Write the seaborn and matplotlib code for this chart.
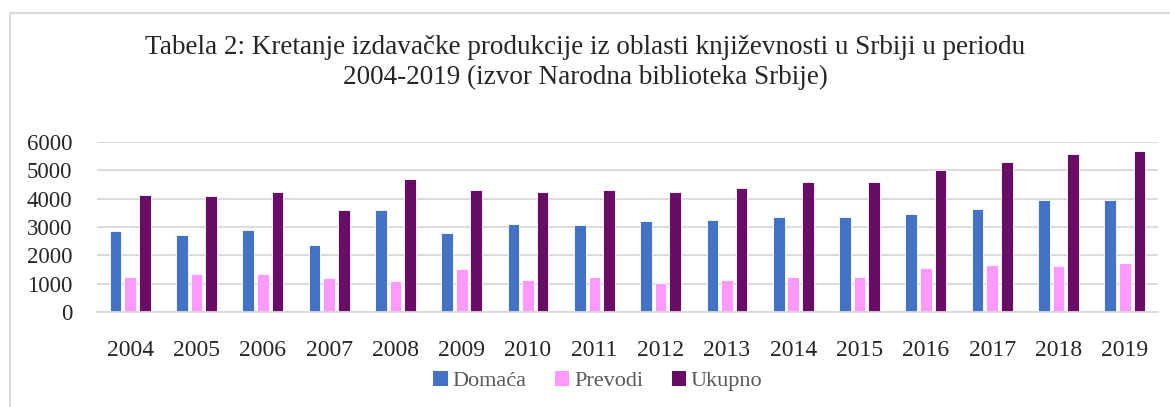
import matplotlib
matplotlib.use('Agg')
import matplotlib.pyplot as plt
import seaborn as sns
import pandas as pd
from matplotlib.patches import Rectangle, Patch

years = ['2004', '2005', '2006', '2007', '2008', '2009', '2010', '2011',
         '2012', '2013', '2014', '2015', '2016', '2017', '2018', '2019']
domaca = [2865, 2724, 2877, 2370, 3597, 2771, 3090, 3078,
          3196, 3231, 3337, 3349, 3455, 3632, 3939, 3939]
prevodi = [1238, 1356, 1333, 1215, 1097, 1509, 1132, 1226,
           1026, 1144, 1226, 1250, 1557, 1663, 1639, 1745]
ukupno = [4115, 4092, 4233, 3597, 4693, 4292, 4233, 4316,
          4233, 4387, 4575, 4599, 5012, 5295, 5590, 5696]
series_names = ['Domaća', 'Prevodi', 'Ukupno']
colors = ['#4472C4', '#FF99FF', '#690C65']

sns.set_style('white')
plt.rcParams['font.family'] = ['Liberation Serif', 'DejaVu Serif']

# long format for seaborn
data = pd.DataFrame({
    'Godina': years * 3,
    'Broj': domaca + prevodi + ukupno,
    'Serija': [series_names[0]] * 16 + [series_names[1]] * 16 + [series_names[2]] * 16,
})

fig = plt.figure(figsize=(11.7, 4.07), dpi=100)
ax = fig.add_axes([97 / 1170, 1 - 312 / 407, (1158 - 97) / 1170, (312 - 142) / 407])

sns.barplot(data=data, x='Godina', y='Broj', hue='Serija', order=years,
            hue_order=series_names, palette=colors, saturation=1,
            width=0.66, gap=0.2, ax=ax, legend=False,
            edgecolor='white', linewidth=0.6)

ax.set_ylim(0, 6000)
ax.set_yticks(range(0, 6001, 1000))
ax.set_xlabel('')
ax.set_ylabel('')
ax.grid(axis='y', color='#D9D9D9', linewidth=1.3)
ax.set_axisbelow(True)
for s in ['top', 'right', 'left']:
    ax.spines[s].set_visible(False)
ax.spines['bottom'].set_color('#D9D9D9')
ax.spines['bottom'].set_linewidth(1.3)
ax.tick_params(axis='y', length=0, pad=18, labelsize=16.5)
ax.tick_params(axis='x', length=0, pad=20, labelsize=17)

fig.text(0.5, 1 - 47 / 407,
         'Tabela 2: Kretanje izdavačke produkcije iz oblasti književnosti u Srbiji u periodu',
         ha='center', va='center', fontsize=19.5)
fig.text(0.5, 1 - 77 / 407, '2004-2019 (izvor Narodna biblioteka Srbije)',
         ha='center', va='center', fontsize=19.5)

handles = [Patch(facecolor=c, edgecolor='none') for c in colors]
fig.legend(handles, series_names, loc='center', bbox_to_anchor=(0.511, 1 - 381 / 407),
           ncol=3, frameon=False, fontsize=16, labelcolor='#595959',
           handlelength=0.65, handleheight=0.65, handletextpad=0.2, columnspacing=1.3)

# chart area border
fig.patches.append(Rectangle((10 / 1170, -0.1), 1.2, 1 - 13 / 407 + 0.1,
                             transform=fig.transFigure, fill=False,
                             edgecolor='#D9D9D9', linewidth=1.5))

fig.savefig('out.png', dpi=100)
